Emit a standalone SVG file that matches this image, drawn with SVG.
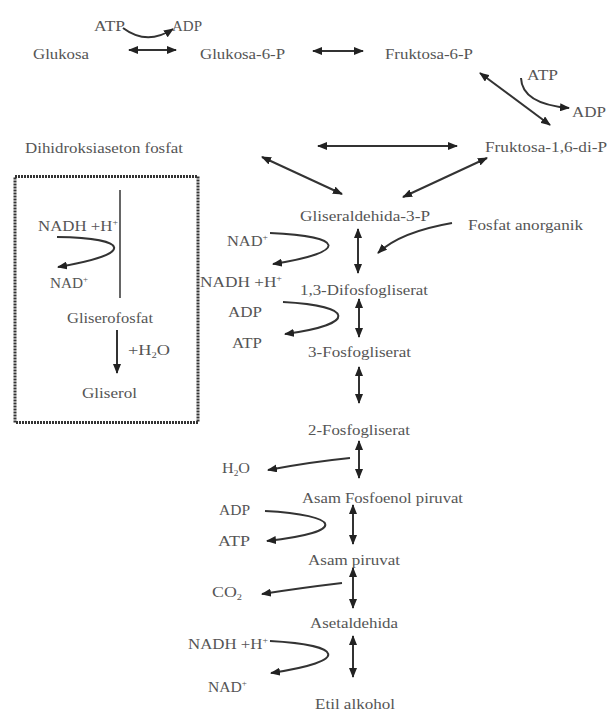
<svg xmlns="http://www.w3.org/2000/svg" width="608" height="711" viewBox="0 0 608 711">
<style>
text{font-family:"Liberation Serif","Times New Roman",serif;font-size:15.5px;fill:#555;}
.c{fill:none;stroke:#333;stroke-width:2;}
.cd{fill:none;stroke:#333;stroke-width:2;marker-start:url(#ah);marker-end:url(#ah);}
.ce{fill:none;stroke:#333;stroke-width:2;marker-end:url(#ah);}
.sup{font-size:9px;}
</style>
<defs>
<marker id="ah" viewBox="0 0 10 8" refX="9" refY="4" markerWidth="10" markerHeight="8" markerUnits="userSpaceOnUse" orient="auto-start-reverse">
<path d="M0,0 L10,4 L0,8 z" fill="#222"/>
</marker>
</defs>
<rect width="608" height="711" fill="#fff"/>

<g id="connectors">
<line class="cd" x1="129" y1="50" x2="176" y2="50"/>
<path class="ce" d="M123,28 Q147,46 173,29"/>
<line class="cd" x1="313" y1="51" x2="363" y2="51"/>
<line class="cd" x1="480" y1="73" x2="550" y2="125"/>
<path class="ce" d="M521,78 Q522,104 569,108"/>
<line class="cd" x1="318" y1="146" x2="457" y2="146"/>
<line class="cd" x1="262" y1="157" x2="342" y2="194"/>
<line class="cd" x1="487" y1="158" x2="403" y2="197"/>
<line class="cd" x1="358" y1="229" x2="358" y2="273"/>
<path class="ce" d="M452,223 Q400,232 378,253"/>
<path class="ce" d="M270,233 C345,236 350,252 273,264"/>
<line class="cd" x1="359" y1="299" x2="359" y2="337"/>
<path class="ce" d="M283,302 C355,306 358,324 285,334"/>
<line class="cd" x1="359" y1="367" x2="359" y2="403"/>
<line class="cd" x1="359" y1="441" x2="359" y2="478"/>
<path class="ce" d="M350,458 Q310,462 268,470"/>
<line class="cd" x1="353" y1="505" x2="353" y2="544"/>
<path class="ce" d="M265,511 C340,515 350,532 267,541"/>
<line class="cd" x1="353" y1="568" x2="353" y2="608"/>
<path class="ce" d="M342,583 Q300,588 262,594"/>
<line class="cd" x1="353" y1="636" x2="353" y2="677"/>
<path class="ce" d="M270,641 C343,645 352,661 271,673"/>
</g>

<g id="box">
<rect x="15" y="176.5" width="183" height="246" fill="none" stroke="#333" stroke-width="3" stroke-dasharray="2 1"/>
<line x1="120" y1="190" x2="120" y2="298" stroke="#333" stroke-width="1.5"/>
<path class="ce" d="M57,237 C130,238 136,254 58,267"/>
<line class="ce" x1="117" y1="330" x2="117" y2="373" stroke-width="1.5"/>
</g>

<g id="n-atp1"><text x="94" y="31" textLength="31" lengthAdjust="spacingAndGlyphs">ATP</text></g>
<g id="n-adp1"><text x="172" y="31" textLength="30" lengthAdjust="spacingAndGlyphs">ADP</text></g>
<g id="n-glukosa"><text x="33" y="59" textLength="56" lengthAdjust="spacingAndGlyphs">Glukosa</text></g>
<g id="n-g6p"><text x="200" y="59" textLength="85" lengthAdjust="spacingAndGlyphs">Glukosa-6-P</text></g>
<g id="n-f6p"><text x="385" y="59" textLength="88" lengthAdjust="spacingAndGlyphs">Fruktosa-6-P</text></g>
<g id="n-atp2"><text x="527" y="80" textLength="31" lengthAdjust="spacingAndGlyphs">ATP</text></g>
<g id="n-adp2"><text x="572" y="117" textLength="34" lengthAdjust="spacingAndGlyphs">ADP</text></g>
<g id="n-dhap"><text x="25" y="153" textLength="158" lengthAdjust="spacingAndGlyphs">Dihidroksiaseton fosfat</text></g>
<g id="n-f16p"><text x="485" y="152" textLength="122" lengthAdjust="spacingAndGlyphs">Fruktosa-1,6-di-P</text></g>
<g id="n-g3p"><text x="300" y="221" textLength="130" lengthAdjust="spacingAndGlyphs">Gliseraldehida-3-P</text></g>
<g id="n-fosfat"><text x="468" y="230" textLength="115" lengthAdjust="spacingAndGlyphs">Fosfat anorganik</text></g>
<g id="n-nad1"><text x="227" y="246" textLength="41" lengthAdjust="spacingAndGlyphs">NAD<tspan class="sup" dy="-6">+</tspan></text></g>
<g id="n-nadh1"><text x="200" y="287" textLength="82" lengthAdjust="spacingAndGlyphs">NADH +H<tspan class="sup" dy="-6">+</tspan></text></g>
<g id="n-dpg"><text x="300" y="295" textLength="128" lengthAdjust="spacingAndGlyphs">1,3-Difosfogliserat</text></g>
<g id="n-adp3"><text x="228" y="317" textLength="34" lengthAdjust="spacingAndGlyphs">ADP</text></g>
<g id="n-atp3"><text x="232" y="348" textLength="30" lengthAdjust="spacingAndGlyphs">ATP</text></g>
<g id="n-3pg"><text x="308" y="357" textLength="103" lengthAdjust="spacingAndGlyphs">3-Fosfogliserat</text></g>
<g id="n-2pg"><text x="308" y="435" textLength="102" lengthAdjust="spacingAndGlyphs">2-Fosfogliserat</text></g>
<g id="n-h2o"><text x="222" y="473" textLength="28" lengthAdjust="spacingAndGlyphs">H<tspan class="sup" dy="3">2</tspan><tspan dy="-3">O</tspan></text></g>
<g id="n-pep"><text x="302" y="503" textLength="161" lengthAdjust="spacingAndGlyphs">Asam Fosfoenol piruvat</text></g>
<g id="n-adp4"><text x="219" y="515" textLength="31" lengthAdjust="spacingAndGlyphs">ADP</text></g>
<g id="n-atp4"><text x="218" y="546" textLength="32" lengthAdjust="spacingAndGlyphs">ATP</text></g>
<g id="n-pyr"><text x="308" y="565" textLength="92" lengthAdjust="spacingAndGlyphs">Asam piruvat</text></g>
<g id="n-co2"><text x="212" y="597" textLength="30" lengthAdjust="spacingAndGlyphs">CO<tspan class="sup" dy="3">2</tspan></text></g>
<g id="n-asetal"><text x="310" y="628" textLength="88" lengthAdjust="spacingAndGlyphs">Asetaldehida</text></g>
<g id="n-nadh2"><text x="188" y="649" textLength="80" lengthAdjust="spacingAndGlyphs">NADH +H<tspan class="sup" dy="-6">+</tspan></text></g>
<g id="n-nad2"><text x="208" y="692" textLength="39" lengthAdjust="spacingAndGlyphs">NAD<tspan class="sup" dy="-6">+</tspan></text></g>
<g id="n-etil"><text x="315" y="709" textLength="80" lengthAdjust="spacingAndGlyphs">Etil alkohol</text></g>

<g id="n-box-nadh"><text x="38" y="231" textLength="80" lengthAdjust="spacingAndGlyphs">NADH +H<tspan class="sup" dy="-6">+</tspan></text></g>
<g id="n-box-nad"><text x="50" y="288" textLength="38" lengthAdjust="spacingAndGlyphs">NAD<tspan class="sup" dy="-6">+</tspan></text></g>
<g id="n-gliserofosfat"><text x="67" y="323" textLength="86" lengthAdjust="spacingAndGlyphs">Gliserofosfat</text></g>
<g id="n-h2o-box"><text x="128" y="355" textLength="42" lengthAdjust="spacingAndGlyphs">+H<tspan class="sup" dy="3">2</tspan><tspan dy="-3">O</tspan></text></g>
<g id="n-gliserol"><text x="82" y="398" textLength="55" lengthAdjust="spacingAndGlyphs">Gliserol</text></g>
</svg>
